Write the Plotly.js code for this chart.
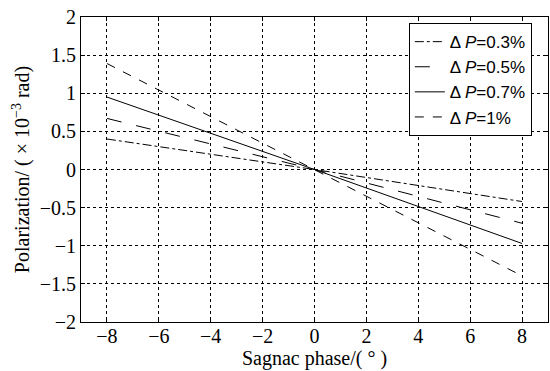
<!DOCTYPE html>
<html>
<head>
<meta charset="utf-8">
<script src="https://cdn.plot.ly/plotly-3.0.1.min.js"></script>
<style>html,body{margin:0;padding:0;background:#fff;}#chart{width:550px;height:371px;}</style>
</head>
<body>
<div id="chart"></div>
<script>
// Sagnac phase (deg)
const phase = [-8, 0, 8];
// Polarization (x10^-3 rad) for each ΔP
const p03 = [0.40, 0.0, -0.42];
const p05 = [0.67, 0.0, -0.705];
const p07 = [0.95, 0.0, -0.97];
const p10 = [1.39, 0.0, -1.395];
const seriesNames = ['Δ <i>P</i>=0.3%', 'Δ <i>P</i>=0.5%', 'Δ <i>P</i>=0.7%', 'Δ <i>P</i>=1%'];
const dashes = ['dashdot', 'longdash', 'solid', 'dash'];
const xTicks = [-8, -6, -4, -2, 0, 2, 4, 6, 8];
const yTicks = [-2, -1.5, -1, -0.5, 0, 0.5, 1, 1.5, 2];

const ys = [p03, p05, p07, p10];
const traces = ys.map((y, i) => ({
  x: phase, y: y, type: 'scatter', mode: 'lines', name: seriesNames[i],
  line: {color: '#000', width: 1, dash: dashes[i]}
}));

const serif = 'Liberation Serif, Times New Roman, serif';
const layout = {
  width: 550, height: 371,
  margin: {l: 81, r: 2, t: 17, b: 49},
  paper_bgcolor: '#fff', plot_bgcolor: '#fff',
  showlegend: true,
  legend: {
    x: 0.702, y: 0.98, xanchor: 'left', yanchor: 'top',
    bgcolor: '#fff', bordercolor: '#000', borderwidth: 1,
    font: {family: 'Liberation Sans, Arial, sans-serif', size: 17, color: '#000'},
    itemwidth: 30, tracegroupgap: 0
  },
  xaxis: {
    range: [-9, 9], tickvals: xTicks, ticktext: xTicks.map(v => v < 0 ? '−' + Math.abs(v) : String(v)),
    showgrid: true, gridcolor: '#000', gridwidth: 1, griddash: 'dot', zeroline: false,
    showline: true, linecolor: '#000', linewidth: 1, mirror: 'allticks',
    ticks: 'inside', ticklen: 4, tickcolor: '#000', ticklabelstandoff: -4,
    tickfont: {family: serif, size: 20, color: '#000'},
    title: {text: 'Sagnac phase/( ° )', font: {family: serif, size: 20, color: '#000'}, standoff: 2}
  },
  yaxis: {
    range: [-2, 2], tickvals: yTicks, ticktext: yTicks.map(v => v < 0 ? '−' + Math.abs(v) : String(v)),
    showgrid: true, gridcolor: '#000', gridwidth: 1, griddash: 'dot', zeroline: false,
    showline: true, linecolor: '#000', linewidth: 1, mirror: 'allticks',
    ticks: 'inside', ticklen: 4, tickcolor: '#000',
    tickfont: {family: serif, size: 20, color: '#000'},
    title: {text: 'Polarization/ ( × 10<sup>−3</sup> rad)', font: {family: serif, size: 20, color: '#000'}, standoff: 4}
  }
};
Plotly.newPlot('chart', traces, layout, {displayModeBar: false, staticPlot: true});
</script>
</body>
</html>
